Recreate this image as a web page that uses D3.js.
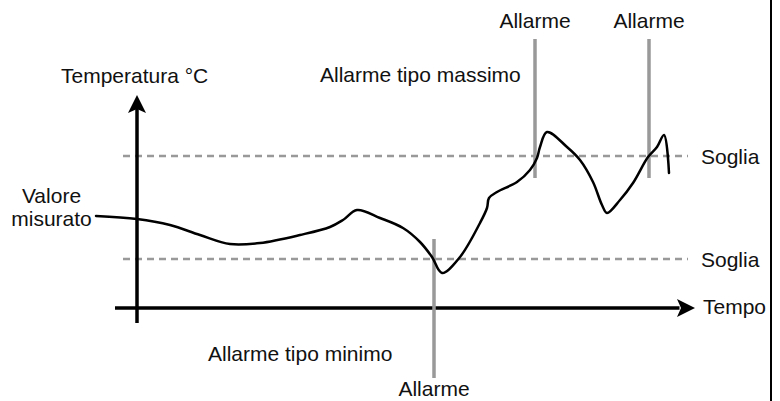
<!DOCTYPE html>
<html><head><meta charset="utf-8">
<script src="https://cdn.jsdelivr.net/npm/d3@7"></script>
<style>
body{margin:0;background:#fff}
svg{display:block}
text{font-family:"Liberation Sans",Arial,Helvetica,sans-serif;font-size:21px;fill:#111}
</style>
</head><body>
<svg id="chart" width="780" height="401"></svg>
<script>
// ---- data ----
const time =        [-8.2, 0,    6.6,  12.6, 18.6, 24.6, 32.6, 38.6, 41.2, 44, 48.6, 53.2, 56.6, 59,   61,   64.6, 68.6, 70,  70.4, 72, 76, 78.6, 80, 80.6, 82, 86,   88.6, 91.2, 93,   94,   96.6, 99.2, 102.2, 104,  105.4, 106.4];
const temperature = [46,   44.5, 41.5, 36.5, 32,   32.5, 36.5, 40.5, 44,   49, 45,   40,   33,   25.5, 17.5, 25.5, 42.5, 50,  55,   58, 63, 69,   75, 80.5, 88, 80.5, 74,   63,   51.5, 47.5, 54,   62.5, 75.5,  80.5, 86.5,  67.5];
const thresholds = [76, 24.5];
const thresholdLabels = ["Soglia", "Soglia"];
const alarmTimes = [59.4, 79.6, 102.4];
const alarmKinds = ["min", "max", "max"];
const alarmLabel = "Allarme";
const yTitle = "Temperatura °C";
const xTitle = "Tempo";
const seriesLabel = ["Valore", "misurato"];
const maxLabel = "Allarme tipo massimo";
const minLabel = "Allarme tipo minimo";

// ---- scales ----
const svg = d3.select("#chart");
const x = d3.scaleLinear().domain([0, 100]).range([137, 637]);
const y = d3.scaleLinear().domain([0, 100]).range([308, 108]);

const gray = "#999999";

// right frame edge
svg.append("line").attr("x1", 771).attr("x2", 771).attr("y1", 0).attr("y2", 401)
  .attr("stroke", "#000").attr("stroke-width", 2);

// threshold dashed lines
svg.selectAll(".thr").data(thresholds).join("line")
  .attr("x1", x(-2.8)).attr("x2", x(110.2))
  .attr("y1", d => y(d)).attr("y2", d => y(d))
  .attr("stroke", gray).attr("stroke-width", 2.5).attr("stroke-dasharray", "7,5");
svg.selectAll(".thrl").data(thresholds).join("text")
  .attr("x", 701).attr("y", d => y(d) + 7.5).text((d, i) => thresholdLabels[i]);

// axes
svg.append("line").attr("x1", x(-4.4)).attr("x2", x(108.5))
  .attr("y1", y(0)).attr("y2", y(0)).attr("stroke", "#000").attr("stroke-width", 3.5);
svg.append("line").attr("x1", x(0)).attr("x2", x(0))
  .attr("y1", y(-7.5)).attr("y2", y(100)).attr("stroke", "#000").attr("stroke-width", 3.5);
// arrowheads
svg.append("path").attr("transform", `translate(${x(111.6)},${y(0)}) rotate(90)`)
  .attr("d", "M0,0 L-9,18 L0,14 L9,18 Z").attr("fill", "#000");
svg.append("path").attr("transform", `translate(${x(0)},${y(106.5)})`)
  .attr("d", "M0,0 L-9,18 L0,14 L9,18 Z").attr("fill", "#000");

// alarm lines
const ext = k => k === "max" ? [65, 134.5] : [-35, 34.5];
svg.selectAll(".al").data(alarmTimes).join("line")
  .attr("x1", d => x(d)).attr("x2", d => x(d))
  .attr("y1", (d, i) => y(ext(alarmKinds[i])[0])).attr("y2", (d, i) => y(ext(alarmKinds[i])[1]))
  .attr("stroke", gray).attr("stroke-width", 3.5);
svg.selectAll(".all").data(alarmTimes).join("text")
  .attr("x", d => x(d)).attr("text-anchor", "middle")
  .attr("y", (d, i) => alarmKinds[i] === "max" ? y(ext("max")[1]) - 11 : y(ext("min")[0]) + 18)
  .text(alarmLabel);

// measured curve
const line = d3.line().x((d, i) => x(time[i])).y(d => y(d)).curve(d3.curveCatmullRom.alpha(0.5));
svg.append("path").attr("d", line(temperature))
  .attr("fill", "none").attr("stroke", "#000").attr("stroke-width", 2.5)
  .attr("stroke-linejoin", "round").attr("stroke-linecap", "round");

// titles
svg.append("text").attr("x", 61).attr("y", 83).text(yTitle);
svg.append("text").attr("x", 703).attr("y", 314).text(xTitle);
svg.append("text").attr("x", 320).attr("y", 82).text(maxLabel);
svg.append("text").attr("x", 208).attr("y", 361).text(minLabel);
svg.selectAll(".sl").data(seriesLabel).join("text")
  .attr("x", 51.5).attr("text-anchor", "middle")
  .attr("y", (d, i) => 203 + i * 23).text(d => d);
</script>
</body></html>
